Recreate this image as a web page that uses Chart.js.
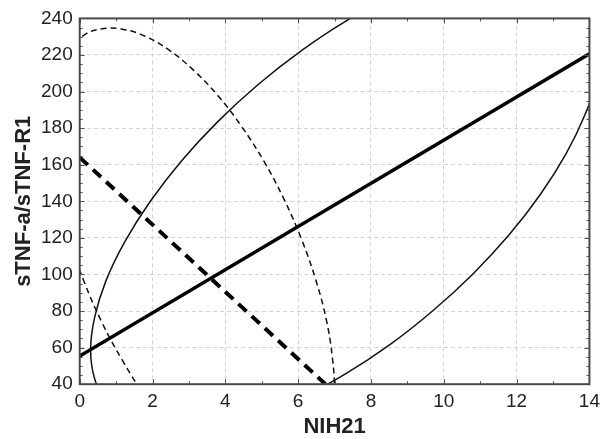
<!DOCTYPE html>
<html>
<head>
<meta charset="utf-8">
<script src="https://cdn.jsdelivr.net/npm/chart.js@4"></script>
<style>
  html, body { margin: 0; padding: 0; background: #fff; }
  #wrap { width: 606px; height: 439px; }
</style>
</head>
<body>
<div id="wrap"><canvas id="graph" width="606" height="439"></canvas></div>
<script>
// regression lines (NIH21 -> sTNF-a/sTNF-R1)
const solidLineX = [0, 14];
const solidLineY = [55.4, 220.7];
const dashedLineX = [0, 6.75];
const dashedLineY = [164, 40];

// confidence ellipse, solid group (closed loop)
const solidEllipseX = [11.80, 10.80, 9.69, 8.52, 7.30, 6.09, 4.91, 3.80, 2.80, 1.94, 1.24, 0.72, 0.41, 0.30,
  0.41, 0.72, 1.24, 1.94, 2.80, 3.80, 4.91, 6.09, 7.30, 8.52, 9.69, 10.80, 11.80, 12.66, 13.36, 13.88,
  14.19, 14.30, 14.19, 13.88, 13.36, 12.66, 11.80];
const solidEllipseY = [269.5, 267.2, 261.1, 251.4, 238.4, 222.4, 204.0, 183.7, 162.2, 140.0, 117.9, 96.5, 76.5, 58.5,
  43.0, 30.6, 21.5, 16.1, 14.5, 16.8, 22.9, 32.6, 45.6, 61.6, 80.0, 100.3, 121.8, 144.0, 166.1, 187.5,
  205.5, 224.5, 241.0, 253.4, 262.5, 267.9, 269.5];

// confidence ellipse, dashed group
const dashedEllipseX = [5.06, 5.61, 6.09, 6.48, 6.77, 6.94, 7.00, 6.94, 6.77, 6.48, 6.09, 5.61, 5.06, 4.44,
  3.79, 3.11, 2.44, 1.78, 1.17, 0.61, 0.13, -0.26, -0.55, -0.72, -0.78, -0.72, -0.55, -0.26, 0.13,
  0.61, 1.17, 1.78, 2.44, 3.11, 3.79, 4.44, 5.06];
const dashedEllipseY = [-19.1, -18.9, -15.0, -7.2, 4.0, 18.3, 35.4, 54.6, 75.5, 97.3, 119.4, 141.2, 161.9, 181.1,
  197.9, 212.0, 222.9, 230.4, 234.1, 234.3, 231.0, 222.2, 211.0, 196.7, 179.6, 160.4, 139.5, 117.7, 95.6,
  73.8, 53.1, 34.0, 17.1, 3.0, -7.95, -15.4, -19.1];

const xMin = 0, xMax = 14, xStep = 2;
const yMin = 40, yMax = 240, yStep = 20;

function points(xs, ys) {
  return xs.map((x, i) => ({ x: x, y: ys[i] }));
}

// frame + inward tick marks like the original software
const cadre = {
  id: "cadre",
  afterDatasetsDraw(chart) {
    const { ctx, chartArea: a, scales } = chart;
    ctx.save();
    ctx.strokeStyle = "#555";
    ctx.lineWidth = 1;
    ctx.beginPath();
    for (let v = xMin; v <= xMax; v += 1) {
      const px = Math.round(scales.x.getPixelForValue(v)) + 0.5;
      const len = v % xStep === 0 ? 5 : 3;
      ctx.moveTo(px, a.bottom); ctx.lineTo(px, a.bottom - len);
      ctx.moveTo(px, a.top); ctx.lineTo(px, a.top + len);
    }
    for (let v = yMin; v <= yMax; v += 5) {
      const py = Math.round(scales.y.getPixelForValue(v)) + 0.5;
      const len = v % yStep === 0 ? 5 : 3;
      ctx.moveTo(a.left, py); ctx.lineTo(a.left + len, py);
      ctx.moveTo(a.right, py); ctx.lineTo(a.right - len, py);
    }
    ctx.stroke();
    ctx.lineWidth = 2;
    ctx.strokeStyle = "#4a4a4a";
    ctx.strokeRect(a.left, a.top, a.right - a.left, a.bottom - a.top);
    ctx.restore();
  },
};

new Chart(document.getElementById("graph"), {
  type: "scatter",
  data: {
    datasets: [
      {
        data: points(solidEllipseX, solidEllipseY),
        borderColor: "#111",
        borderWidth: 1.5,
      },
      {
        data: points(dashedEllipseX, dashedEllipseY),
        borderColor: "#111",
        borderWidth: 1.5,
        borderDash: [6, 4],
      },
      {
        data: points(solidLineX, solidLineY),
        borderColor: "#000",
        borderWidth: 3.5,
        tension: 0,
      },
      {
        data: points(dashedLineX, dashedLineY),
        borderColor: "#000",
        borderWidth: 4,
        borderDash: [11, 7],
        tension: 0,
      },
    ],
  },
  options: {
    responsive: false,
    animation: false,
    showLine: true,
    layout: { padding: { left: 13, right: 12, top: 17, bottom: 1 } },
    elements: {
      point: { radius: 0, hoverRadius: 0 },
      line: { tension: 0.4, capBezierPoints: false, fill: false },
    },
    plugins: {
      legend: { display: false },
      tooltip: { enabled: false },
    },
    scales: {
      x: {
        type: "linear",
        min: xMin,
        max: xMax,
        ticks: {
          stepSize: xStep,
          color: "#222",
          padding: 6,
          font: { family: "Liberation Sans, Arial, sans-serif", size: 19 },
        },
        grid: { color: "#d4d4d4", drawTicks: false },
        border: { display: false, dash: [4, 3] },
        title: {
          display: true,
          text: "NIH21",
          color: "#222",
          padding: { top: -3, bottom: 0 },
          font: { family: "Liberation Sans, Arial, sans-serif", size: 22, weight: "bold", lineHeight: 1 },
        },
      },
      y: {
        type: "linear",
        min: yMin,
        max: yMax,
        ticks: {
          stepSize: yStep,
          color: "#222",
          padding: 7,
          font: { family: "Liberation Sans, Arial, sans-serif", size: 19 },
        },
        grid: { color: "#d4d4d4", drawTicks: false },
        border: { display: false, dash: [4, 3] },
        title: {
          display: true,
          text: "sTNF-a/sTNF-R1",
          color: "#222",
          padding: { top: 0, bottom: -1 },
          font: { family: "Liberation Sans, Arial, sans-serif", size: 22, weight: "bold", lineHeight: 1 },
        },
      },
    },
  },
  plugins: [cadre],
});
</script>
</body>
</html>
